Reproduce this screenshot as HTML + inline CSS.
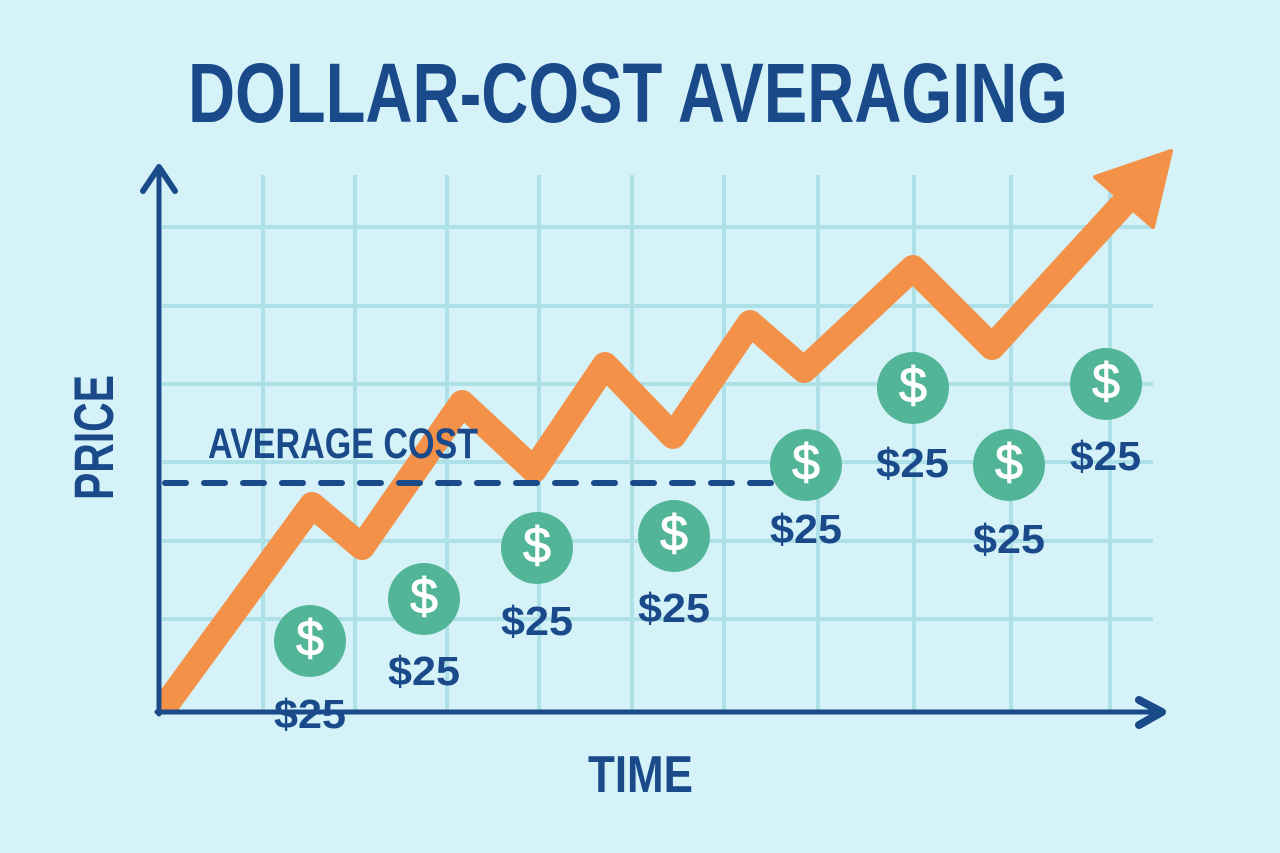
<!DOCTYPE html>
<html>
<head>
<meta charset="utf-8">
<style>
  html,body{margin:0;padding:0;background:#d4f2f7;}
  svg{display:block;}
  text{font-family:"Liberation Sans", Arial, sans-serif;font-weight:bold;}
  text.coin{font-weight:normal;}
</style>
</head>
<body>
<svg width="1280" height="853" viewBox="0 0 1280 853" xmlns="http://www.w3.org/2000/svg">
  <defs>
    <clipPath id="plot"><rect x="159" y="100" width="1100" height="612"/></clipPath>
  </defs>
  <rect x="0" y="0" width="1280" height="853" fill="#d4f2f7"/>

  <!-- Title -->
  <text x="188" y="122" font-size="84" fill="#1a4a8a" textLength="880" lengthAdjust="spacingAndGlyphs">DOLLAR-COST AVERAGING</text>

  <!-- Grid -->
  <g stroke="#ade0e7" stroke-width="4">
    <line x1="263" y1="175" x2="263" y2="712"/>
    <line x1="355" y1="175" x2="355" y2="712"/>
    <line x1="447" y1="175" x2="447" y2="712"/>
    <line x1="539" y1="175" x2="539" y2="712"/>
    <line x1="632" y1="175" x2="632" y2="712"/>
    <line x1="724" y1="175" x2="724" y2="712"/>
    <line x1="818" y1="175" x2="818" y2="712"/>
    <line x1="914" y1="175" x2="914" y2="712"/>
    <line x1="1011" y1="175" x2="1011" y2="712"/>
    <line x1="1110" y1="175" x2="1110" y2="712"/>
    <line x1="162" y1="227" x2="1153" y2="227"/>
    <line x1="162" y1="306" x2="1153" y2="306"/>
    <line x1="162" y1="384" x2="1153" y2="384"/>
    <line x1="162" y1="462" x2="1153" y2="462"/>
    <line x1="162" y1="541" x2="1153" y2="541"/>
    <line x1="162" y1="619" x2="1153" y2="619"/>
  </g>

  <!-- Orange price line -->
  <g clip-path="url(#plot)">
    <polyline points="152,724 312,505 362,547 462,403 534,470 605,365 673,436 750,323 804,370 913,268 992,347 1124,203"
      fill="none" stroke="#f49149" stroke-width="26" stroke-linejoin="round" stroke-linecap="butt"/>
  </g>
  <polygon points="1171,151 1095,177 1153,227" fill="#f49149" stroke="#f49149" stroke-width="4" stroke-linejoin="round"/>

  <!-- Average cost dashed line -->
  <line x1="165" y1="483" x2="771" y2="483" stroke="#1a4a8a" stroke-width="6" stroke-dasharray="21 18" stroke-linecap="round"/>
  <text x="208" y="458" font-size="43" fill="#1a4a8a" textLength="270" lengthAdjust="spacingAndGlyphs">AVERAGE COST</text>

  <!-- Axes -->
  <g stroke="#1a4a8a" fill="none" stroke-linecap="round" stroke-linejoin="round">
    <line x1="159" y1="168" x2="159" y2="714" stroke-width="5"/>
    <polyline points="143,191 159,167 175,191" stroke-width="6"/>
    <line x1="157" y1="712" x2="1160" y2="712" stroke-width="5"/>
    <polyline points="1139,700 1162,712 1139,725" stroke-width="8"/>
  </g>

  <!-- Axis labels -->
  <text transform="translate(113,500) rotate(-90)" font-size="56" fill="#1a4a8a" textLength="125" lengthAdjust="spacingAndGlyphs">PRICE</text>
  <text x="588" y="792" font-size="52" fill="#1a4a8a" textLength="105" lengthAdjust="spacingAndGlyphs">TIME</text>

  <!-- Coins -->
  <g fill="#52b597">
    <circle cx="310" cy="641" r="36"/>
    <circle cx="424" cy="599" r="36"/>
    <circle cx="537" cy="548" r="36"/>
    <circle cx="674" cy="536" r="36"/>
    <circle cx="806" cy="465" r="36"/>
    <circle cx="913" cy="388" r="36"/>
    <circle cx="1009" cy="465" r="36"/>
    <circle cx="1106" cy="384" r="36"/>
  </g>
  <g fill="#ffffff" stroke="#ffffff" stroke-width="1" font-size="50" text-anchor="middle">
    <text class="coin" x="310" y="655">$</text>
    <text class="coin" x="424" y="613">$</text>
    <text class="coin" x="537" y="562">$</text>
    <text class="coin" x="674" y="550">$</text>
    <text class="coin" x="806" y="479">$</text>
    <text class="coin" x="913" y="402">$</text>
    <text class="coin" x="1009" y="479">$</text>
    <text class="coin" x="1106" y="398">$</text>
  </g>

  <!-- $25 labels -->
  <g fill="#1a4a8a" font-size="41">
    <text x="274" y="728" textLength="72" lengthAdjust="spacingAndGlyphs">$25</text>
    <text x="388" y="685" textLength="72" lengthAdjust="spacingAndGlyphs">$25</text>
    <text x="501" y="635" textLength="72" lengthAdjust="spacingAndGlyphs">$25</text>
    <text x="638" y="622" textLength="72" lengthAdjust="spacingAndGlyphs">$25</text>
    <text x="770" y="543" textLength="72" lengthAdjust="spacingAndGlyphs">$25</text>
    <text x="876" y="477" textLength="73" lengthAdjust="spacingAndGlyphs">$25</text>
    <text x="973" y="553" textLength="72" lengthAdjust="spacingAndGlyphs">$25</text>
    <text x="1070" y="470" textLength="71" lengthAdjust="spacingAndGlyphs">$25</text>
  </g>
</svg>
</body>
</html>
